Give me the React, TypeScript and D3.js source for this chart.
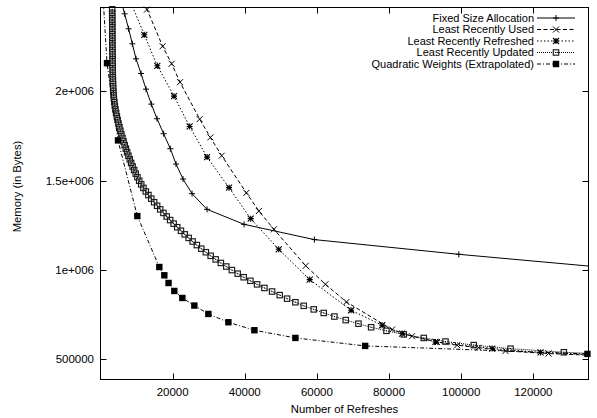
import React from "react";
import * as d3 from "d3";

// ---- data ----
const xTicks = [20000, 40000, 60000, 80000, 100000, 120000];
const yTicks = [500000, 1000000, 1500000, 2000000];
const yTickLabels = ["500000", "1e+006", "1.5e+006", "2e+006"];

const fixedX = [4965, 6686, 7795, 8821, 9848, 11235, 12622, 14092, 15673, 17504, 19363, 20944, 22886, 25382, 29543, 39807, 59308, 99337, 139500];
const fixedY = [2565000, 2434600, 2350700, 2266800, 2182900, 2100700, 2012900, 1929000, 1847300, 1763400, 1679500, 1593400, 1509500, 1427800, 1340000, 1256100, 1170600, 1088300, 1015000];

const lruX = [10650, 12899, 17226, 19723, 22053, 27490, 30458, 33593, 40445, 43913, 48074, 56895, 62360, 68185, 80862, 86355, 93290, 98893, 104802, 112292, 124220, 140000];
const lruY = [2565000, 2458600, 2253400, 2154900, 2052000, 1845100, 1742700, 1640400, 1432300, 1330500, 1228200, 1024000, 920600, 821500, 667200, 629700, 597800, 579400, 565400, 547500, 533000, 520000];

const lrrX = [6990, 12150, 15756, 20389, 24716, 29543, 35646, 41638, 49405, 58005, 69489, 78089, 83637, 92875, 108603, 122000, 140000];
const lrrY = [2565000, 2317100, 2143700, 1973700, 1804200, 1632500, 1461400, 1288000, 1116300, 946800, 775100, 691200, 644800, 597800, 560900, 538900, 522000];

const lruUpdX = [
  3240, 3246, 3251, 3257, 3262, 3268, 3273, 3279, 3284, 3290,
  3296, 3301, 3315, 3329, 3343, 3357, 3370, 3384, 3398, 3412,
  3440, 3468, 3509, 3565, 3634, 3717, 3828, 3967, 4133, 4327,
  4535, 4757, 4993, 5243, 5506, 5784, 6075, 6380, 6699, 7032,
  7379, 7739, 8114, 8502, 8905, 9321, 9764, 10236, 10735, 11290,
  11900, 12566, 13287, 14064, 14869, 15701, 16561, 17448, 18364, 19307,
  20278, 21276, 22303, 23357, 24439, 25549, 26713, 27934, 29210, 30542,
  31929, 33371, 34869, 36423, 38032, 39696, 41555, 43413, 45438, 47574,
  49682, 51735, 54037, 56340, 59114, 61888, 64856, 67991, 71514, 75037,
  79281, 84080, 89628, 95647, 103498, 113679, 128464, 150000,
];
const lruUpdY = [
  2460000, 2440000, 2420000, 2400000, 2380000, 2360000, 2340000, 2320000, 2300000, 2280000,
  2260000, 2240000, 2220000, 2200000, 2180000, 2160000, 2140000, 2120000, 2100000, 2080000,
  2060000, 2040000, 2020000, 2000000, 1980000, 1960000, 1940000, 1920000, 1900000, 1880000,
  1860000, 1840000, 1820000, 1800000, 1780000, 1760000, 1740000, 1720000, 1700000, 1680000,
  1660000, 1640000, 1620000, 1600000, 1580000, 1560000, 1540000, 1520000, 1500000, 1480000,
  1460000, 1440000, 1420000, 1400000, 1380000, 1360000, 1340000, 1320000, 1300000, 1280000,
  1260000, 1240000, 1220000, 1200000, 1180000, 1160000, 1140000, 1120000, 1100000, 1080000,
  1060000, 1040000, 1020000, 1000000, 980000, 960000, 940000, 920000, 900000, 880000,
  860000, 840000, 820000, 800000, 780000, 760000, 740000, 720000, 700000, 680000,
  660000, 640000, 620000, 600000, 580000, 560000, 540000, 520000,
];

const quadX = [500, 1803, 4855, 10208, 16311, 17698, 18863, 20472, 22691, 26020, 29904, 35452, 42665, 54038, 73373, 135000];
const quadY = [2600000, 2158300, 1726000, 1302600, 1017300, 970900, 927800, 883100, 843900, 801400, 754500, 708000, 663300, 620200, 575500, 530700];

const seriesNames = [
  "Fixed Size Allocation",
  "Least Recently Used",
  "Least Recently Refreshed",
  "Least Recently Updated",
  "Quadratic Weights (Extrapolated)",
];

// ---- layout ----
const W = 597, H = 418;
const L = 100.5, R = 588.5, T = 7.5, B = 379.5;
const X_MAX = 135300, Y_MIN = 387500, Y_MAX = 2470000;
const FONT = "'Liberation Sans', Arial, Helvetica, sans-serif";

type Marker = "plus" | "cross" | "star" | "box" | "fbox";

function markerEl(kind: Marker, x: number, y: number, key: string | number) {
  const s = 3;
  if (kind === "plus")
    return <path key={key} d={`M${x - s},${y}H${x + s}M${x},${y - s}V${y + s}`} stroke="#000" strokeWidth={1} fill="none" />;
  if (kind === "cross")
    return <path key={key} d={`M${x - s},${y - s}L${x + s},${y + s}M${x - s},${y + s}L${x + s},${y - s}`} stroke="#000" strokeWidth={1} fill="none" />;
  if (kind === "star")
    return <path key={key} d={`M${x - s},${y}H${x + s}M${x},${y - s}V${y + s}M${x - s},${y - s}L${x + s},${y + s}M${x - s},${y + s}L${x + s},${y - s}`} stroke="#000" strokeWidth={1.1} fill="none" />;
  if (kind === "box")
    return (
      <g key={key}>
        <rect x={x - 2.7} y={y - 2.7} width={5.4} height={5.4} stroke="#1a1a1a" strokeWidth={1.15} fill="none" />
        <rect x={x - 0.5} y={y - 0.5} width={1} height={1} fill="#000" />
      </g>
    );
  return <rect key={key} x={x - 3.2} y={y - 3.2} width={6.4} height={6.4} fill="#000" />;
}

export default function App() {
  const xs = d3.scaleLinear().domain([0, X_MAX]).range([L, R]);
  const ys = d3.scaleLinear().domain([Y_MIN, Y_MAX]).range([B, T]);

  const series = [
    { xv: fixedX, yv: fixedY, dash: "none", marker: "plus" as Marker },
    { xv: lruX, yv: lruY, dash: "4,2.5", marker: "cross" as Marker },
    { xv: lrrX, yv: lrrY, dash: "1.5,2", marker: "star" as Marker },
    { xv: lruUpdX, yv: lruUpdY, dash: "1,1", marker: "box" as Marker },
    { xv: quadX, yv: quadY, dash: "4,2,1,2", marker: "fbox" as Marker },
  ];

  const line = d3
    .line<[number, number]>()
    .x((d) => xs(d[0]))
    .y((d) => ys(d[1]));

  const legendRows = [18, 29.5, 41, 52.5, 64];

  return (
    <svg width={W} height={H} style={{ position: "absolute", left: 0, top: 0, background: "#fff" }} fontFamily={FONT}>
      <rect x={0} y={0} width={W} height={H} fill="#fff" />
      <defs>
        <clipPath id="plotclip">
          <rect x={L} y={T} width={R - L} height={B - T} />
        </clipPath>
      </defs>

      {/* ticks */}
      {xTicks.map((t) => (
        <g key={"xt" + t}>
          <line x1={Math.round(xs(t)) + 0.5} x2={Math.round(xs(t)) + 0.5} y1={B} y2={B - 6} stroke="#000" />
          <line x1={Math.round(xs(t)) + 0.5} x2={Math.round(xs(t)) + 0.5} y1={T} y2={T + 6} stroke="#000" />
          <text x={xs(t)} y={396} fontSize={11.5} textAnchor="middle" fill="#000">{t}</text>
        </g>
      ))}
      {yTicks.map((t, i) => (
        <g key={"yt" + t}>
          <line x1={L} x2={L + 6} y1={Math.round(ys(t)) + 0.5} y2={Math.round(ys(t)) + 0.5} stroke="#000" />
          <line x1={R} x2={R - 6} y1={Math.round(ys(t)) + 0.5} y2={Math.round(ys(t)) + 0.5} stroke="#000" />
          <text x={94} y={ys(t)} dy="0.35em" fontSize={11.5} textAnchor="end" fill="#000">{yTickLabels[i]}</text>
        </g>
      ))}

      {/* series */}
      {series.map((s, si) => {
        const pts: [number, number][] = s.xv.map((x, i) => [x, s.yv[i]]);
        const inside = pts.filter((p) => p[0] >= 0 && p[0] <= X_MAX && p[1] >= Y_MIN && p[1] <= Y_MAX);
        return (
          <g key={"s" + si}>
            <path d={line(pts) || ""} fill="none" stroke="#000" strokeWidth={1} strokeDasharray={s.dash} clipPath="url(#plotclip)" />
            {inside.map((p, i) => markerEl(s.marker, xs(p[0]), ys(p[1]), i))}
          </g>
        );
      })}

      {/* legend */}
      {series.map((s, si) => (
        <g key={"lg" + si}>
          <text x={534} y={legendRows[si]} dy="0.35em" fontSize={11} textAnchor="end" fill="#000">{seriesNames[si]}</text>
          <line x1={537} x2={575} y1={legendRows[si]} y2={legendRows[si]} stroke="#000" strokeWidth={1} strokeDasharray={s.dash} />
          {markerEl(s.marker, 556, legendRows[si], "m")}
        </g>
      ))}

      {/* frame */}
      <rect x={L} y={T} width={R - L} height={B - T} fill="none" stroke="#000" strokeWidth={1} />

      {/* axis titles */}
      <text x={(L + R) / 2} y={413} fontSize={11.3} textAnchor="middle" fill="#000">Number of Refreshes</text>
      <text transform={`translate(21,${(T + B) / 2 - 7}) rotate(-90)`} fontSize={11.3} textAnchor="middle" fill="#000">Memory (in Bytes)</text>
    </svg>
  );
}
